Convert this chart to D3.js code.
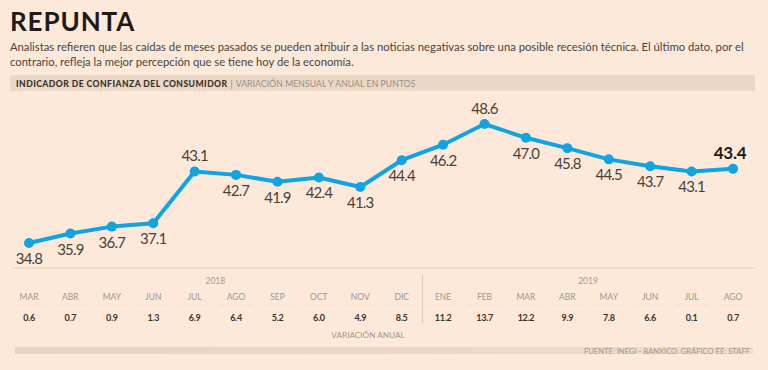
<!DOCTYPE html>
<html>
<head>
<meta charset="utf-8">
<script src="https://cdn.jsdelivr.net/npm/d3@7"></script>
<style>
  html, body { margin: 0; padding: 0; background: #fde9d9; }
  svg { display: block; }
</style>
</head>
<body>
<div id="chart"></div>
<script>
(function () {
  'use strict';

  // Data
  var months = ['MAR', 'ABR', 'MAY', 'JUN', 'JUL', 'AGO', 'SEP', 'OCT', 'NOV', 'DIC',
                'ENE', 'FEB', 'MAR', 'ABR', 'MAY', 'JUN', 'JUL', 'AGO'];
  var years = [{ label: '2018', from: 0, to: 9 }, { label: '2019', from: 10, to: 17 }];
  var indicador = [34.8, 35.9, 36.7, 37.1, 43.1, 42.7, 41.9, 42.4, 41.3, 44.4,
                   46.2, 48.6, 47.0, 45.8, 44.5, 43.7, 43.1, 43.4];
  var variacionAnual = ['0.6', '0.7', '0.9', '1.3', '6.9', '6.4', '5.2', '6.0', '4.9', '8.5',
                        '11.2', '13.7', '12.2', '9.9', '7.8', '6.6', '0.1', '0.7'];
  // which value labels sit above the point
  var labelAbove = [4, 11, 17];

  var W = 768, H = 370;
  var ink = '#1f1a17', lineBlue = '#12a3e3';
  var font = 'Lato, "Open Sans", sans-serif';

  var svg = d3.select('#chart').append('svg')
    .attr('width', W).attr('height', H)
    .style('font-family', font);

  svg.append('rect').attr('width', W).attr('height', H).attr('fill', '#fde9d9');

  // Title and lead
  svg.append('text').attr('x', 10).attr('y', 31)
    .attr('font-size', 26).attr('font-weight', 700).attr('fill', ink)
    .attr('letter-spacing', 0.9)
    .text('REPUNTA');

  var lead = [
    'Analistas refieren que las caídas de meses pasados se pueden atribuir a las noticias negativas sobre una posible recesión técnica. El último dato, por el',
    'contrario, refleja la mejor percepción que se tiene hoy de la economía.'
  ];
  var leadText = svg.append('g').selectAll('text').data(lead).join('text')
    .attr('x', 10).attr('y', function (d, i) { return 51 + i * 15; })
    .attr('font-size', 12.2).attr('fill', '#4b423b')
    .text(function (d) { return d; });
  // the original face is narrower: size the lead so line one ends near x = 745
  var first = leadText.nodes()[0].getComputedTextLength();
  leadText.attr('font-size', Math.min(12.2, 12.2 * 733 / first));

  // Header band
  svg.append('rect').attr('x', 10).attr('y', 75).attr('width', 745).attr('height', 16)
    .attr('fill', '#ead7c6');
  var head = svg.append('text').attr('x', 16).attr('y', 86.5).attr('font-size', 8.6);
  head.append('tspan').attr('font-weight', 900).attr('fill', '#3a322c')
    .attr('letter-spacing', 0.45)
    .text('INDICADOR DE CONFIANZA DEL CONSUMIDOR');
  head.append('tspan').attr('fill', '#8c7f75').attr('dx', 3).text('|');
  head.append('tspan').attr('fill', '#9a8e84').attr('dx', 3).attr('letter-spacing', 0.1)
    .text('VARIACIÓN MENSUAL Y ANUAL EN PUNTOS');

  // Scales
  var x = d3.scalePoint().domain(d3.range(months.length)).range([29, 733]);
  var y = d3.scaleLinear().domain([34.8, 48.6]).range([243, 124]);

  // Baseline under the plot
  svg.append('line').attr('x1', 12).attr('x2', 755).attr('y1', 268).attr('y2', 268)
    .attr('stroke', '#ecd8c7').attr('stroke-width', 1.5);

  // Line + dots
  var line = d3.line()
    .x(function (d, i) { return x(i); })
    .y(function (d) { return y(d); });

  svg.append('path').datum(indicador)
    .attr('d', line)
    .attr('fill', 'none').attr('stroke', lineBlue)
    .attr('stroke-width', 4).attr('stroke-linejoin', 'round');

  svg.append('g').selectAll('circle').data(indicador).join('circle')
    .attr('cx', function (d, i) { return x(i); })
    .attr('cy', function (d) { return y(d); })
    .attr('r', 5).attr('fill', lineBlue);

  // Value labels
  svg.append('g').selectAll('text').data(indicador).join('text')
    .attr('x', function (d, i) { return x(i) + (i === 17 ? -3 : 0); })
    .attr('y', function (d, i) {
      return labelAbove.indexOf(i) >= 0 ? y(d) - 10 : y(d) + 21;
    })
    .attr('text-anchor', 'middle')
    .attr('font-size', function (d, i) { return i === 17 ? 17 : 15; })
    .attr('font-weight', function (d, i) { return i === 17 ? 700 : 400; })
    .attr('letter-spacing', function (d, i) { return i === 17 ? -0.3 : -0.8; })
    .attr('fill', function (d, i) { return i === 17 ? ink : '#4a4039'; })
    .text(function (d) { return d.toFixed(1); });

  // Bottom table
  var table = svg.append('g');

  table.selectAll('text.year').data(years).join('text')
    .attr('class', 'year')
    .attr('x', function (d) { return (x(d.from) + x(d.to)) / 2; })
    .attr('y', 284)
    .attr('text-anchor', 'middle')
    .attr('font-size', 8.5).attr('fill', '#a89b90')
    .text(function (d) { return d.label; });

  table.append('line')
    .attr('x1', (x(9) + x(10)) / 2).attr('x2', (x(9) + x(10)) / 2)
    .attr('y1', 275).attr('y2', 323)
    .attr('stroke', '#d9c7b9').attr('stroke-width', 1);

  table.selectAll('line.sep').data(months).join('line')
    .attr('class', 'sep')
    .attr('x1', function (d, i) { return x(i) - 16; })
    .attr('x2', function (d, i) { return x(i) + 16; })
    .attr('y1', 305).attr('y2', 305)
    .attr('stroke', '#f6dfcd').attr('stroke-width', 1);

  table.selectAll('text.month').data(months).join('text')
    .attr('class', 'month')
    .attr('x', function (d, i) { return x(i); })
    .attr('y', 300)
    .attr('text-anchor', 'middle')
    .attr('font-size', 8.5).attr('fill', '#a39589')
    .text(function (d) { return d; });

  table.selectAll('text.val').data(variacionAnual).join('text')
    .attr('class', 'val')
    .attr('x', function (d, i) { return x(i); })
    .attr('y', 321)
    .attr('text-anchor', 'middle')
    .attr('font-size', 9).attr('font-weight', 700).attr('fill', '#3a322c')
    .attr('letter-spacing', -0.3)
    .text(function (d) { return d; });

  table.append('text')
    .attr('x', 368).attr('y', 338)
    .attr('text-anchor', 'middle')
    .attr('font-size', 8.2).attr('fill', '#a39589')
    .text('VARIACIÓN ANUAL');

  // Footer band with source
  var grad = svg.append('defs').append('linearGradient').attr('id', 'foot')
    .attr('x1', '0%').attr('x2', '100%');
  grad.append('stop').attr('offset', '0%').attr('stop-color', '#e8d3c3');
  grad.append('stop').attr('offset', '100%').attr('stop-color', '#efdccd');
  svg.append('rect').attr('x', 15).attr('y', 347).attr('width', 738).attr('height', 7)
    .attr('fill', 'url(#foot)');
  svg.append('text').attr('x', 750).attr('y', 354)
    .attr('text-anchor', 'end')
    .attr('font-size', 7.6).attr('fill', '#a39589')
    .text('FUENTE: INEGI - BANXICO. GRÁFICO EE: STAFF');
})();
</script>
</body>
</html>
